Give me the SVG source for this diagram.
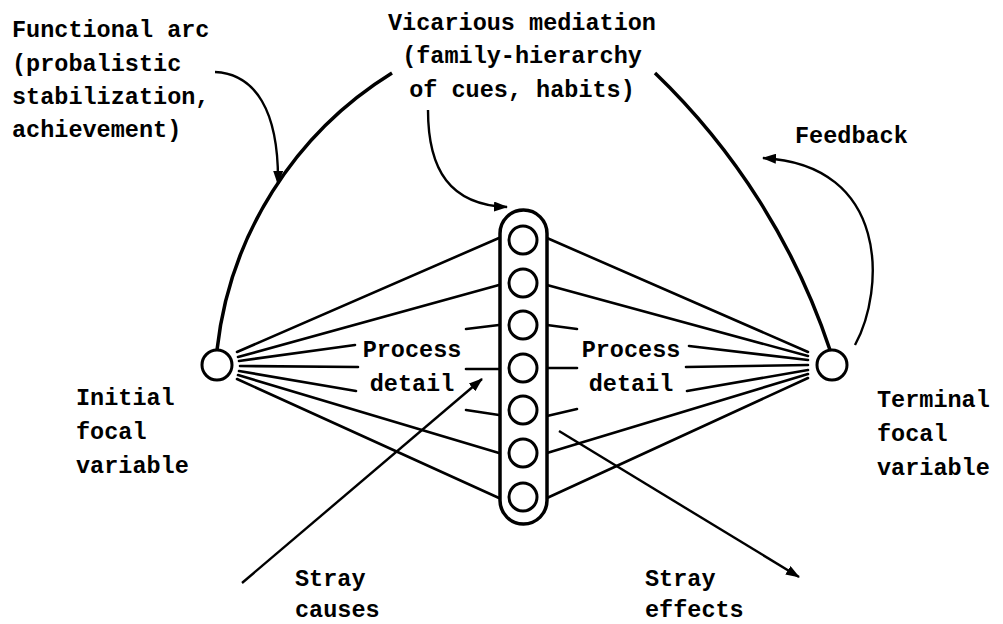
<svg xmlns="http://www.w3.org/2000/svg" width="1003" height="624" viewBox="0 0 1003 624">
<style>
.t{font-family:"Liberation Mono","Courier New",monospace;font-weight:bold;font-size:23.5px;fill:#000}
.m{text-anchor:middle}
.arc{fill:none;stroke:#000;stroke-width:3.5}
.ln{fill:none;stroke:#000;stroke-width:2.6;stroke-linecap:round}
.ar{fill:none;stroke:#000;stroke-width:2.4}
.nd{fill:#fff;stroke:#000;stroke-width:3}
</style>
<defs>
<marker id="ah" viewBox="0 0 14 10" refX="13" refY="5" markerWidth="14" markerHeight="10" markerUnits="userSpaceOnUse" orient="auto">
<path d="M0,0 L14,5 L0,10 z" fill="#000"/>
</marker>
</defs>
<rect width="1003" height="624" fill="#fff"/>
<g id="connectors">
<path class="arc" d="M217,350 A374,374 0 0 1 392,73"/>
<path class="arc" d="M655,73 A683,683 0 0 1 830,350"/>
<line class="ln" x1="237" y1="352" x2="499" y2="238"/>
<line class="ln" x1="238" y1="357" x2="499" y2="285"/>
<line class="ln" x1="239" y1="361" x2="355" y2="345"/>
<line class="ln" x1="240" y1="366" x2="358" y2="367"/>
<line class="ln" x1="239" y1="371" x2="356" y2="391"/>
<line class="ln" x1="238" y1="375" x2="499" y2="453"/>
<line class="ln" x1="237" y1="379" x2="499" y2="498"/>
<line class="ln" x1="466" y1="329" x2="499" y2="325"/>
<line class="ln" x1="466" y1="369" x2="499" y2="369"/>
<line class="ln" x1="466" y1="410" x2="499" y2="415"/>
<line class="ln" x1="547" y1="325" x2="577" y2="329"/>
<line class="ln" x1="547" y1="368" x2="577" y2="368"/>
<line class="ln" x1="547" y1="416" x2="577" y2="409"/>
<line class="ln" x1="547" y1="238" x2="808" y2="352"/>
<line class="ln" x1="547" y1="285" x2="808" y2="356"/>
<line class="ln" x1="689" y1="346" x2="808" y2="360"/>
<line class="ln" x1="686" y1="367" x2="808" y2="365"/>
<line class="ln" x1="687" y1="391" x2="808" y2="370"/>
<line class="ln" x1="547" y1="453" x2="808" y2="374"/>
<line class="ln" x1="547" y1="498" x2="808" y2="378"/>
<path class="ar" d="M215,72 C255,74 279,110 278,184" marker-end="url(#ah)"/>
<path class="ar" d="M428,110 C428,170 450,205 507,207" marker-end="url(#ah)"/>
<path class="ar" d="M855,345 C885,290 890,165 763,158" marker-end="url(#ah)"/>
<line class="ar" x1="242" y1="583" x2="482" y2="379" marker-end="url(#ah)"/>
<line class="ar" x1="559" y1="431" x2="799" y2="577" marker-end="url(#ah)"/>
</g>
<g id="initial">
<circle class="nd" cx="217" cy="365" r="15"/>
<text class="t" x="76" y="405">Initial</text>
<text class="t" x="76" y="439">focal</text>
<text class="t" x="76" y="473">variable</text>
</g>
<g id="terminal">
<circle class="nd" cx="832" cy="365" r="15"/>
<text class="t" x="877" y="407">Terminal</text>
<text class="t" x="877" y="441">focal</text>
<text class="t" x="877" y="475">variable</text>
</g>
<g id="mediation">
<rect x="500" y="210" width="47" height="314" rx="23.5" fill="#fff" stroke="#000" stroke-width="3.5"/>
<circle class="nd" cx="523" cy="240" r="14"/>
<circle class="nd" cx="523" cy="283" r="14"/>
<circle class="nd" cx="523" cy="325" r="14"/>
<circle class="nd" cx="523" cy="368" r="14"/>
<circle class="nd" cx="523" cy="410" r="14"/>
<circle class="nd" cx="523" cy="453" r="14"/>
<circle class="nd" cx="523" cy="497" r="14"/>
</g>
<g id="labels">
<text class="t" x="12" y="37">Functional arc</text>
<text class="t" x="12" y="71">(probalistic</text>
<text class="t" x="12" y="104">stabilization,</text>
<text class="t" x="12" y="137">achievement)</text>
<text class="t m" x="522" y="30">Vicarious mediation</text>
<text class="t m" x="522" y="63">(family-hierarchy</text>
<text class="t m" x="522" y="97">of cues, habits)</text>
<text class="t" x="795" y="143">Feedback</text>
<text class="t m" x="412" y="357">Process</text>
<text class="t m" x="412" y="391">detail</text>
<text class="t m" x="631" y="357">Process</text>
<text class="t m" x="631" y="391">detail</text>
<text class="t" x="295" y="586">Stray</text>
<text class="t" x="295" y="617">causes</text>
<text class="t" x="645" y="586">Stray</text>
<text class="t" x="645" y="617">effects</text>
</g>
</svg>
